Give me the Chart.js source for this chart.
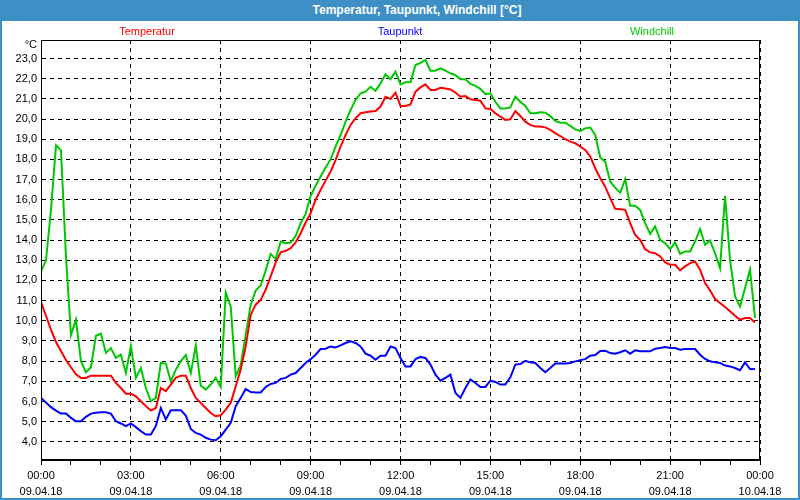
<!DOCTYPE html>
<html><head><meta charset="utf-8">
<script src="https://cdn.jsdelivr.net/npm/chart.js@4.4.1/dist/chart.umd.min.js"></script>
<style>
html,body{margin:0;padding:0;background:#fff;}
#wrap{position:relative;width:800px;height:500px;overflow:hidden;background:#fff;font-family:"Liberation Sans",Arial,sans-serif;}
#frame{position:absolute;left:0;top:0;width:796px;height:498px;border:2px solid #3d8fc5;border-top:none;pointer-events:none;}
#titlebar{position:absolute;left:0;top:0;width:800px;height:21px;background:#3d8fc5;}
#titletext{position:absolute;left:417px;top:0;transform:translateX(-50%);white-space:nowrap;color:#fff;font-weight:bold;font-size:12px;line-height:21px;}
.leg{position:absolute;top:24px;font-size:11px;line-height:14px;transform:translateX(-50%);white-space:nowrap;}
canvas{position:absolute;left:0;top:0;}
</style></head>
<body>
<div id="wrap">
<canvas id="c" width="800" height="500"></canvas>
<div id="titlebar"><span id="titletext">Temperatur, Taupunkt, Windchill [°C]</span></div>
<div class="leg" style="left:147px;color:#ff0000">Temperatur</div>
<div class="leg" style="left:400px;color:#0000ff">Taupunkt</div>
<div class="leg" style="left:652px;color:#00cc00">Windchill</div>
<div id="frame"></div>
</div>
<script>
// values every 10 minutes from 09.04.18 00:00 to 23:50
const temperatur = [
10.93,10.25,9.55,8.95,8.5,8.05, 7.7,7.35,7.17,7.17,7.28,7.28,
7.28,7.28,7.28,6.92,6.67,6.39, 6.39,6.26,6.01,5.77,5.55,5.68,
6.67,6.51,6.84,7.17,7.28,7.28, 6.67,6.18,5.93,5.68,5.43,5.27,
5.32,5.6,5.93,6.75,7.58,8.73, 10.3,10.8,11.04,11.54,12.2,12.9,
13.4,13.47,13.6,13.88,14.34,14.87, 15.33,16.0,16.49,16.95,17.4,17.97,
18.64,19.21,19.71,20.04,20.29,20.34, 20.37,20.4,20.62,21.11,21.0,21.31,
20.65,20.65,20.73,21.36,21.57,21.72, 21.44,21.44,21.55,21.52,21.47,21.32,
21.11,21.14,20.98,20.95,20.91,20.53, 20.5,20.29,20.12,19.96,19.99,20.4,
20.15,19.87,19.71,19.63,19.63,19.59, 19.46,19.3,19.16,19.0,18.88,18.8,
18.64,18.47,18.14,17.56,17.07,16.65, 16.08,15.55,15.53,15.5,14.84,14.26,
14.01,13.55,13.39,13.35,13.19,12.89, 12.78,12.78,12.5,12.7,12.86,12.94,
12.53,11.87,11.51,11.08,10.88,10.68, 10.47,10.25,10.06,10.14,10.14,9.92
];
const taupunkt = [
6.18,5.95,5.72,5.55,5.4,5.4, 5.19,5.02,5.02,5.24,5.4,5.44,
5.47,5.47,5.4,5.02,4.91,4.78, 4.91,4.73,4.53,4.36,4.36,4.78,
5.68,5.11,5.57,5.57,5.57,5.3, 4.64,4.44,4.36,4.2,4.11,4.08,
4.28,4.61,4.94,5.77,6.18,6.62, 6.47,6.45,6.45,6.72,6.87,6.92,
7.12,7.17,7.33,7.41,7.66,7.91, 8.1,8.32,8.6,8.62,8.73,8.68,
8.78,8.9,8.98,8.9,8.73,8.37, 8.27,8.07,8.27,8.27,8.73,8.65,
8.16,7.74,7.74,8.1,8.21,8.16, 7.83,7.33,7.03,7.17,7.33,6.42,
6.18,6.67,7.09,6.92,6.72,6.72, 7.03,6.97,6.84,6.84,7.2,7.83,
7.86,8.02,7.94,7.91,7.66,7.45, 7.66,7.88,7.88,7.88,7.91,7.99,
8.05,8.1,8.27,8.3,8.5,8.52, 8.4,8.37,8.44,8.54,8.37,8.54,
8.49,8.49,8.49,8.62,8.65,8.7, 8.65,8.65,8.57,8.6,8.6,8.6,
8.32,8.11,7.99,7.94,7.91,7.78, 7.74,7.66,7.55,7.94,7.61,7.61
];
const windchill = [
12.45,13.0,15.5,18.7,18.45,13.2, 9.3,10.06,8.0,7.45,7.7,9.26,
9.36,8.41,8.65,8.16,8.32,7.42, 8.74,7.17,7.66,6.67,6.01,6.18,
7.91,7.88,7.0,7.58,8.0,8.3, 7.41,8.77,6.79,6.59,6.84,7.17,
6.72,11.4,10.7,7.25,7.8,9.3, 10.8,11.5,11.75,12.5,13.32,13.06,
13.93,13.85,13.88,14.2,14.85,15.3, 16.2,16.7,17.15,17.6,18.0,18.64,
19.21,19.87,20.45,20.95,21.28,21.36, 21.6,21.4,21.77,22.22,21.98,22.35,
21.72,21.82,21.82,22.68,22.79,22.93, 22.4,22.4,22.51,22.4,22.27,22.18,
21.98,21.98,21.74,21.65,21.5,21.23, 21.28,20.86,20.53,20.53,20.58,21.11,
20.86,20.65,20.29,20.29,20.34,20.32, 20.15,19.91,19.82,19.82,19.66,19.49,
19.41,19.54,19.58,19.21,18.1,17.89, 16.9,16.6,16.35,17.02,15.7,15.7,
15.5,14.84,14.31,14.68,14.01,13.85, 13.55,13.88,13.32,13.44,13.44,13.93,
14.55,13.77,13.98,13.35,12.61,16.2, 13.02,11.21,10.71,11.62,12.53,10.14
];
const stepMinutes = 10;
const xTickTimes = ['00:00','03:00','06:00','09:00','12:00','15:00','18:00','21:00','00:00'];
const xTickDates = ['09.04.18','09.04.18','09.04.18','09.04.18','09.04.18','09.04.18','09.04.18','09.04.18','10.04.18'];
const yTicks = [4,5,6,7,8,9,10,11,12,13,14,15,16,17,18,19,20,21,22,23];
const hourTicks = Array.from({length:25},(_,i)=>i*60);

const toPts = arr => arr.map((v,i)=>({x:i*stepMinutes,y:v}));
const FONT = {family:'"Liberation Sans", Arial, sans-serif', size:11};

const framePlugin = {
  id:'frameBox',
  afterDraw(chart){
    const {ctx, chartArea:a} = chart;
    ctx.save();
    ctx.strokeStyle='#000'; ctx.lineWidth=1;
    ctx.strokeRect(Math.round(a.left)+0.5, Math.round(a.top)+0.5, Math.round(a.right-a.left)-1, Math.round(a.bottom-a.top)-1);
    ctx.fillStyle='#000';
    ctx.font='11px "Liberation Sans", Arial, sans-serif';
    ctx.textAlign='right'; ctx.textBaseline='middle';
    ctx.fillText('°C', 37, 45);
    ctx.restore();
  }
};

new Chart(document.getElementById('c'), {
  type:'line',
  data:{datasets:[
    {label:'Temperatur', data:toPts(temperatur), borderColor:'#ff0000', borderWidth:2, pointRadius:0, tension:0},
    {label:'Taupunkt', data:toPts(taupunkt), borderColor:'#0000ff', borderWidth:2, pointRadius:0, tension:0},
    {label:'Windchill', data:toPts(windchill), borderColor:'#00c800', borderWidth:2, pointRadius:0, tension:0}
  ]},
  options:{
    responsive:false, animation:false, devicePixelRatio:1,
    layout:{padding:{left:0,top:40,right:40,bottom:0}},
    plugins:{legend:{display:false}, title:{display:false}, tooltip:{enabled:false}},
    scales:{
      x:{type:'linear', min:0, max:1440,
        afterBuildTicks:s=>{ s.ticks = hourTicks.map(v=>({value:v})); },
        afterFit:s=>{ s.height = 40; },
        grid:{color:c=> (c.tick && c.tick.value % 180 === 0) ? '#000' : 'rgba(0,0,0,0)', lineWidth:1, tickColor:'#000', tickLength:5, drawTicks:true},
        border:{display:true, color:'#000', width:1, dash:[4,4]},
        ticks:{autoSkip:false, maxRotation:0, minRotation:0, padding:3, color:'#000', font:{...FONT, lineHeight:1.45},
          callback:v=> (v % 180 === 0) ? [xTickTimes[v/180], xTickDates[v/180]] : ''}
      },
      y:{min:3.1, max:23.92,
        afterBuildTicks:s=>{ s.ticks = yTicks.map(v=>({value:v})); },
        afterFit:s=>{ s.width = 41; },
        grid:{color:'#000', lineWidth:1, drawTicks:false},
        border:{display:true, color:'#000', width:1, dash:[4,4]},
        ticks:{padding:4, color:'#000', font:FONT, callback:v=> Number(v).toFixed(1).replace('.',',')}
      }
    }
  },
  plugins:[framePlugin]
});
</script>
</body></html>
